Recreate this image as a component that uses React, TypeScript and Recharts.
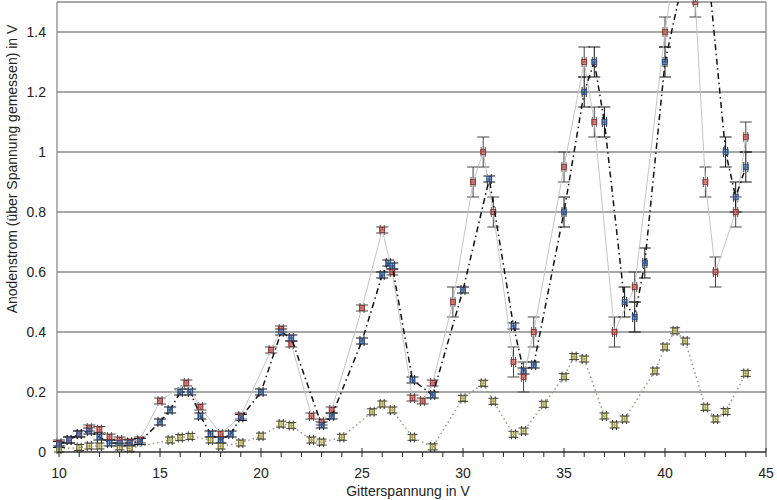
import React from 'react';
import {
  CartesianGrid,
  ErrorBar,
  ReferenceLine,
  Scatter,
  ScatterChart,
  XAxis,
  YAxis,
} from 'recharts';

// Messreihe 1 (rot, duenne graue Linie)
const redX = [
  10, 10.5, 11, 11.5, 12, 12.5, 13, 13.5, 14, 15, 16.3, 17, 18, 19, 20.5, 21, 21.5,
  22.5, 23, 23.5, 25, 26, 26.5, 27.5, 28, 28.5, 29.5, 30.5, 31, 31.5, 32.5, 33, 33.5,
  35, 36, 36.5, 37.5, 38.5, 40, 41, 41.5, 42, 42.5, 43.5, 44,
];
const redY = [
  0.03, 0.04, 0.06, 0.08, 0.075, 0.05, 0.04, 0.033, 0.04, 0.17, 0.23, 0.15, 0.06, 0.12,
  0.34, 0.41, 0.36, 0.12, 0.1, 0.14, 0.48, 0.74, 0.6, 0.18, 0.17, 0.23, 0.5, 0.9, 1.0,
  0.8, 0.3, 0.25, 0.4, 0.95, 1.3, 1.1, 0.4, 0.55, 1.4, 1.85, 1.5, 0.9, 0.6, 0.8, 1.05,
];
const redErr = [
  0.01, 0.01, 0.01, 0.01, 0.01, 0.01, 0.01, 0.01, 0.01, 0.01, 0.01, 0.01, 0.01, 0.01,
  0.01, 0.01, 0.01, 0.01, 0.01, 0.01, 0.01, 0.01, 0.01, 0.01, 0.01, 0.01, 0.05, 0.05,
  0.05, 0.05, 0.05, 0.05, 0.05, 0.05, 0.05, 0.05, 0.05, 0.05, 0.05, 0.05, 0.05, 0.05,
  0.05, 0.05, 0.05,
];

// Messreihe 2 (blau, Strich-Punkt)
const blueX = [
  10, 10.5, 11, 11.5, 12, 12.5, 13, 13.5, 14, 15, 15.5, 16, 16.5, 17, 17.5, 18, 18.5,
  19, 20, 21, 21.5, 23, 23.5, 25, 26, 26.3, 26.5, 27.5, 28.5, 30, 31.3, 32.5, 33, 33.5,
  35, 36, 36.5, 37, 38, 38.5, 39, 40, 41, 42, 43, 43.5, 44,
];
const blueY = [
  0.025, 0.04, 0.06, 0.07, 0.05, 0.03, 0.03, 0.03, 0.035, 0.1, 0.14, 0.2, 0.2, 0.12,
  0.06, 0.04, 0.06, 0.115, 0.2, 0.4, 0.38, 0.09, 0.12, 0.37, 0.59, 0.63, 0.62, 0.24,
  0.19, 0.54, 0.91, 0.42, 0.27, 0.29, 0.8, 1.2, 1.3, 1.1, 0.5, 0.45, 0.63, 1.3, 1.61,
  1.7, 1.0, 0.85, 0.95,
];
const blueErr = [
  0.01, 0.01, 0.01, 0.01, 0.01, 0.01, 0.01, 0.01, 0.01, 0.01, 0.01, 0.01, 0.01, 0.01,
  0.01, 0.01, 0.01, 0.01, 0.01, 0.01, 0.01, 0.01, 0.01, 0.01, 0.01, 0.01, 0.01, 0.01,
  0.01, 0.01, 0.01, 0.01, 0.01, 0.01, 0.05, 0.05, 0.05, 0.05, 0.05, 0.05, 0.05, 0.05,
  0.05, 0.05, 0.05, 0.05, 0.05,
];

// Messreihe 3 (gelb, gepunktet)
const yellowX = [
  10, 11, 11.5, 12, 13, 13.5, 15.5, 16, 16.5, 17.5, 18, 19, 20, 21, 21.5, 22.5, 23, 24,
  25.5, 26, 26.5, 27.5, 28.5, 30, 31, 31.5, 32.5, 33, 34, 35, 35.5, 36, 37, 37.5, 38,
  39.5, 40, 40.5, 41, 42, 42.5, 43, 44,
];
const yellowY = [
  0.01, 0.015, 0.02, 0.02, 0.017, 0.012, 0.04, 0.048, 0.052, 0.04, 0.02, 0.03, 0.053,
  0.093, 0.088, 0.04, 0.033, 0.049, 0.134, 0.16, 0.14, 0.049, 0.017, 0.179, 0.229,
  0.169, 0.059, 0.07, 0.159, 0.251, 0.318, 0.31, 0.12, 0.09, 0.11, 0.27, 0.35, 0.404,
  0.37, 0.149, 0.11, 0.135, 0.262,
];
const YELLOW_ERR = 0.01;
const X_ERR = 0.1;

const xTicks = [
  10, 11, 12, 13, 14, 15, 16, 17, 18, 19, 20, 21, 22, 23, 24, 25, 26, 27, 28, 29, 30,
  31, 32, 33, 34, 35, 36, 37, 38, 39, 40, 41, 42, 43, 44, 45,
];
const yTicks = [0, 0.2, 0.4, 0.6, 0.8, 1, 1.2, 1.4];

const FONT = '"Liberation Sans", Arial, sans-serif';

interface Row {
  x: number;
  y: number;
  ex: number;
  ey: number;
}

function toRows(xs: number[], ys: number[], errs: number[]): Row[] {
  return xs.map((x, i) => ({ x, y: ys[i], ex: X_ERR, ey: errs[i] }));
}

const redRows = toRows(redX, redY, redErr);
const blueRows = toRows(blueX, blueY, blueErr);
const yellowRows = toRows(yellowX, yellowY, yellowX.map(() => YELLOW_ERR));

/** Small square marker, semi-transparent so the error caps show through. */
function square(fill: string, edge: string) {
  return (props: any) => {
    const { cx, cy } = props;
    if (cx == null || cy == null) return <g />;
    return (
      <rect
        x={cx - 2.5}
        y={cy - 2.5}
        width={5}
        height={5}
        fill={fill}
        fillOpacity={0.6}
        stroke={edge}
        strokeWidth={0.8}
      />
    );
  };
}

/** Integer minor ticks below the axis, crossing major ticks with labels every 5 V. */
function XTick(props: any) {
  const { x, y, payload } = props;
  const v = payload.value as number;
  const major = v % 5 === 0;
  return (
    <g>
      <line x1={x} x2={x} y1={major ? y - 4 : y} y2={y + 5} stroke="#222" strokeWidth={1} />
      {major && (
        <text x={x} y={y + 26} textAnchor="middle" fontSize={14} fill="#222" fontFamily={FONT}>
          {v}
        </text>
      )}
    </g>
  );
}

function YLabel() {
  return (
    <text
      x={17}
      y={169}
      transform="rotate(-90 17 169)"
      textAnchor="middle"
      fontSize={14}
      fill="#222"
      fontFamily={FONT}
    >
      Anodenstrom (über Spannung gemessen) in V
    </text>
  );
}

function XLabel() {
  return (
    <text x={408} y={496} textAnchor="middle" fontSize={14} fill="#222" fontFamily={FONT}>
      Gitterspannung in V
    </text>
  );
}

export default function App() {
  return (
    <div style={{ position: 'absolute', left: 0, top: 0, width: 777, height: 500, background: '#fff' }}>
      <ScatterChart width={777} height={500} margin={{ top: 2, right: 11, left: 0, bottom: 0 }}>
        <CartesianGrid vertical={false} stroke="#8a8a8a" strokeWidth={1.3} />
        <XAxis
          type="number"
          dataKey="x"
          domain={[10, 45]}
          ticks={xTicks}
          interval={0}
          tick={<XTick />}
          tickLine={false}
          tickSize={0}
          tickMargin={0}
          height={48}
          axisLine={{ stroke: '#222', strokeWidth: 1.2 }}
          label={<XLabel />}
        />
        <YAxis
          type="number"
          dataKey="y"
          domain={[0, 1.5]}
          allowDataOverflow
          ticks={yTicks}
          width={57}
          tickLine={false}
          tickSize={0}
          tickMargin={11}
          tick={{ fontSize: 14, fill: '#222', fontFamily: FONT }}
          axisLine={{ stroke: '#8a8a8a', strokeWidth: 1.3 }}
          label={<YLabel />}
        />
        <ReferenceLine x={45} stroke="#8a8a8a" strokeWidth={1.3} />
        <Scatter
          data={yellowRows}
          line={{ stroke: '#9a9a86', strokeWidth: 1.5, strokeDasharray: '1.5 3' }}
          shape={square('#ece27a', '#6b6630')}
          isAnimationActive={false}
        >
          <ErrorBar dataKey="ey" direction="y" width={5} stroke="#222" strokeWidth={0.9} />
          <ErrorBar dataKey="ex" direction="x" width={5} stroke="#222" strokeWidth={0.9} />
        </Scatter>
        <Scatter
          data={redRows}
          line={{ stroke: '#c4c4c4', strokeWidth: 1 }}
          shape={square('#d9534f', '#8b2d2a')}
          isAnimationActive={false}
        >
          <ErrorBar dataKey="ey" direction="y" width={6} stroke="#444" strokeWidth={1} />
          <ErrorBar dataKey="ex" direction="x" width={5} stroke="#444" strokeWidth={0.9} />
        </Scatter>
        <Scatter
          data={blueRows}
          line={{ stroke: '#111', strokeWidth: 1.5, strokeDasharray: '6 3.5 1.5 3.5' }}
          shape={square('#4f7fc8', '#2a4a80')}
          isAnimationActive={false}
        >
          <ErrorBar dataKey="ey" direction="y" width={6} stroke="#111" strokeWidth={1} />
          <ErrorBar dataKey="ex" direction="x" width={5} stroke="#111" strokeWidth={0.9} />
        </Scatter>
      </ScatterChart>
    </div>
  );
}
